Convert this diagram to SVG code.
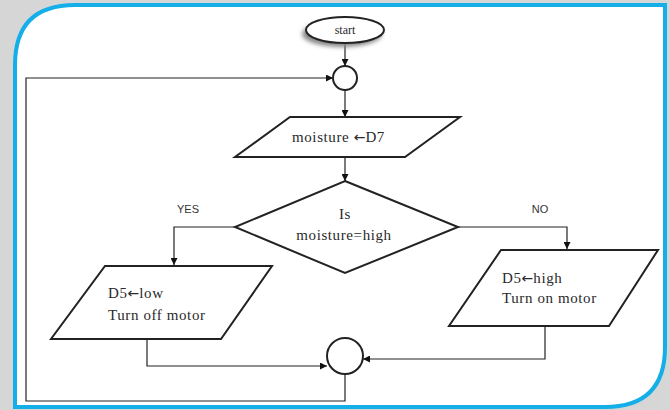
<svg xmlns="http://www.w3.org/2000/svg" width="670" height="410" viewBox="0 0 670 410">
<defs>
<marker id="ah" viewBox="0 0 10 10" refX="10" refY="5" markerWidth="7" markerHeight="7" markerUnits="userSpaceOnUse" orient="auto"><path d="M0,0 L10,5 L0,10 z" fill="#111"/></marker>
<filter id="sh" x="-30%" y="-30%" width="160%" height="160%"><feGaussianBlur stdDeviation="2"/></filter>
<style>
.shape{fill:#fff;stroke:#222;stroke-width:2}
.conn{fill:none;stroke:#222;stroke-width:1.2}
.t{font-family:"Liberation Serif",serif;font-size:15px;letter-spacing:0.6px;fill:#2a2a2a}
.ar{font-family:"DejaVu Sans",sans-serif;font-size:14px;letter-spacing:0}
.lbl{font-family:"Liberation Sans",sans-serif;font-size:11px;fill:#333}
</style>
</defs>
<rect width="670" height="410" fill="#d6d6d6"/>
<path d="M75,5 H665 V347 Q665,407 605,407 H15 V65 Q15,5 75,5 Z" fill="#fff" stroke="#14aee8" stroke-width="4"/>
<g id="connectors">
<line class="conn" x1="345" y1="43" x2="345" y2="66" marker-end="url(#ah)"/>
<line class="conn" x1="345" y1="90" x2="345" y2="117" marker-end="url(#ah)"/>
<line class="conn" x1="345" y1="157" x2="345" y2="181" marker-end="url(#ah)"/>
<polyline class="conn" points="235,227 174,227 174,265" marker-end="url(#ah)"/>
<polyline class="conn" points="458,227 567,227 567,249" marker-end="url(#ah)"/>
<polyline class="conn" points="147,339 147,366 327,366" marker-end="url(#ah)"/>
<polyline class="conn" points="545,326 545,359 363,359" marker-end="url(#ah)"/>
<polyline class="conn" points="345,374 345,401 26,401 26,78 333,78" marker-end="url(#ah)"/>
</g>
<g id="start">
<ellipse cx="342" cy="34" rx="40" ry="13" fill="#888" filter="url(#sh)"/>
<ellipse class="shape" cx="345" cy="30" rx="39" ry="13"/>
<text class="t" x="345" y="34" text-anchor="middle" style="font-size:12px;letter-spacing:0">start</text>
</g>
<g id="join-top">
<circle class="shape" cx="345" cy="78" r="12"/>
</g>
<g id="read-moisture">
<polygon class="shape" points="290,117 460,117 405,157 235,157"/>
<text class="t" x="292" y="142">moisture <tspan class="ar">←</tspan>D7</text>
</g>
<g id="decision">
<polygon class="shape" points="345,181 458,227 345,273 235,227"/>
<text class="t" x="345" y="219" text-anchor="middle">Is</text>
<text class="t" x="344" y="240" text-anchor="middle">moisture=high</text>
</g>
<text class="lbl" x="188" y="213" text-anchor="middle">YES</text>
<text class="lbl" x="540" y="213" text-anchor="middle">NO</text>
<g id="motor-off">
<polygon class="shape" points="105,266 272,266 221,339 51,339"/>
<text class="t" x="108" y="298">D5<tspan class="ar">←</tspan>low</text>
<text class="t" x="108" y="320">Turn off motor</text>
</g>
<g id="motor-on">
<polygon class="shape" points="501,250 658,250 609,326 449,326"/>
<text class="t" x="502" y="283">D5<tspan class="ar">←</tspan>high</text>
<text class="t" x="502" y="303">Turn on motor</text>
</g>
<g id="join-bottom">
<circle class="shape" cx="345" cy="356" r="18"/>
</g>
</svg>
